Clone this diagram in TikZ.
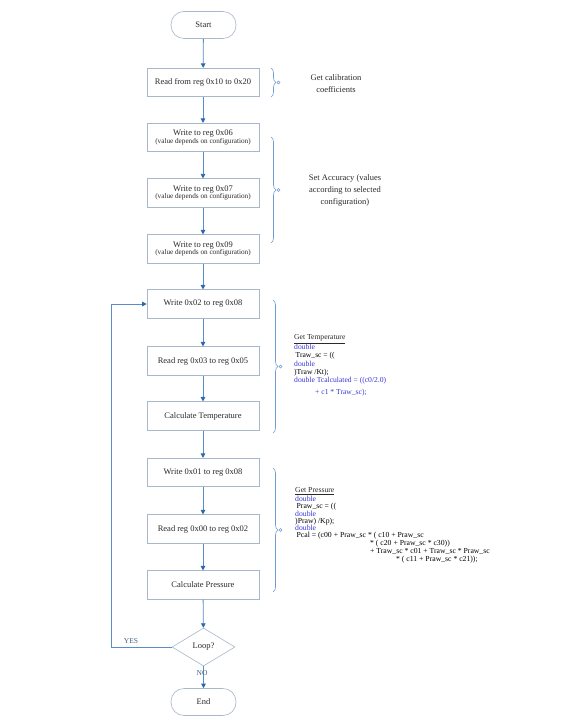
\documentclass[tikz,border=0pt]{standalone}
\usepackage{fontspec}
\setmainfont{Liberation Serif}
\usetikzlibrary{shapes.geometric,arrows.meta,decorations.pathreplacing}
\definecolor{boxline}{HTML}{A9B7CB}
\definecolor{flow}{HTML}{5A8DC4}
\definecolor{tip}{HTML}{2E6AA8}
\definecolor{txt}{HTML}{2A2A2A}
\definecolor{kw}{HTML}{3838D8}
\definecolor{bracec}{HTML}{6F9BD0}
\newcommand{\kwd}[1]{\textcolor{kw}{#1}}
\begin{document}
\begin{tikzpicture}[x=1pt,y=-1pt,
  procbox/.style={draw=boxline,line width=0.6pt,minimum width=112pt,minimum height=28.5pt,inner sep=1pt,align=center,text=txt,font=\fontsize{8.5}{9}\selectfont},
  term/.style={draw=boxline,line width=0.6pt,rounded corners=13pt,minimum width=65pt,minimum height=27pt,text=txt,font=\fontsize{8.5}{9}\selectfont},
  decis/.style={draw=boxline,line width=0.6pt,diamond,aspect=1.65,minimum width=63pt,minimum height=38pt,inner sep=0pt,text=txt,font=\fontsize{8.5}{9}\selectfont},
  flowline/.style={draw=flow,line width=0.8pt,-{Triangle[length=4.5pt,width=4.5pt,color=tip]}},
  bracel/.style={draw=bracec,line width=0.6pt,decorate,decoration={brace,amplitude=5pt}},
  note/.style={text=txt,align=center,font=\fontsize{8.5}{12}\selectfont},
  code/.style={text=black,align=left,anchor=north west,inner sep=0pt},
  lbl/.style={text=flow!70!black,font=\fontsize{7.5}{8}\selectfont}
]
\useasboundingbox (0,0) rectangle (567,727);
\fill[white] (0,0) rectangle (567,727);

\node[term] (start) at (203.5,25) {Start};
\node[procbox] (b1) at (203,82.5) {Read from reg 0x10 to 0x20};
\node[procbox] (b2) at (203,137.5) {Write to reg 0x06\\[-1.5pt]{\fontsize{7.2}{8}\selectfont(value depends on configuration)}};
\node[procbox] (b3) at (203,193) {Write to reg 0x07\\[-1.5pt]{\fontsize{7.2}{8}\selectfont(value depends on configuration)}};
\node[procbox] (b4) at (203,249) {Write to reg 0x09\\[-1.5pt]{\fontsize{7.2}{8}\selectfont(value depends on configuration)}};
\node[procbox] (b5) at (203,304) {Write 0x02 to reg 0x08};
\node[procbox] (b6) at (203,361) {Read reg 0x03 to reg 0x05};
\node[procbox] (b7) at (203,416) {Calculate Temperature};
\node[procbox] (b8) at (203,472.5) {Write 0x01 to reg 0x08};
\node[procbox] (b9) at (203,529) {Read reg 0x00 to reg 0x02};
\node[procbox] (b10) at (203,585) {Calculate Pressure};
\node[decis] (loop) at (203.5,647) {Loop?};
\node[term] (end) at (203.5,702) {End};

\draw[flowline] (start) -- (b1);
\draw[flowline] (b1) -- (b2);
\draw[flowline] (b2) -- (b3);
\draw[flowline] (b3) -- (b4);
\draw[flowline] (b4) -- (b5);
\draw[flowline] (b5) -- (b6);
\draw[flowline] (b6) -- (b7);
\draw[flowline] (b7) -- (b8);
\draw[flowline] (b8) -- (b9);
\draw[flowline] (b9) -- (b10);
\draw[flowline] (b10) -- (loop);
\draw[flowline] (loop) -- (end);
\coordinate (lc1) at (111,647);
\coordinate (lc2) at (111,304);
\draw[flowline] (loop.west) -- (lc1) -- (lc2) -- (b5.west);
\node[lbl] (yes) at (131,641) {YES};
\node[lbl] (no) at (202,673) {NO};

% braces
\coordinate (br1t) at (271,68);
\coordinate (br1b) at (271,97);
\draw[bracel] (br1t) -- (br1b);
\node[draw=bracec,circle,inner sep=0pt,minimum size=3pt,line width=0.5pt] (c1) at (278.5,82.5) {};
\node[note] (n1) at (336,84) {Get calibration\\coefficients};

\coordinate (br2t) at (271,137);
\coordinate (br2b) at (271,243);
\draw[bracel] (br2t) -- (br2b);
\node[draw=bracec,circle,inner sep=0pt,minimum size=3pt,line width=0.5pt] (c2) at (278.5,190) {};
\node[note] (n2) at (345,190) {Set Accuracy (values\\according to selected\\configuration)};

\coordinate (br3t) at (273,300);
\coordinate (br3b) at (273,433);
\draw[bracel] (br3t) -- (br3b);
\node[draw=bracec,circle,inner sep=0pt,minimum size=3pt,line width=0.5pt] (c3) at (280.5,366.5) {};
\node[code,font=\fontsize{7.6}{8.3}\selectfont] (tcode) at (294,334.5) {%
\textcolor{txt}{\underline{Get Temperature}}\\
\kwd{double}\\
\hspace*{1.5pt}Traw\_sc = ((\\
\kwd{double}\\
)Traw /Kt);\\
\kwd{double Tcalculated = ((c0/2.0)}\\[3.7pt]
\hspace*{21pt}\kwd{+ c1 * Traw\_sc);}};

\coordinate (br4t) at (273,468);
\coordinate (br4b) at (273,592);
\draw[bracel] (br4t) -- (br4b);
\node[draw=bracec,circle,inner sep=0pt,minimum size=3pt,line width=0.5pt] (c4) at (280.5,530) {};
\node[code,font=\fontsize{7.7}{6.9}\selectfont] (pcode) at (295,487.5) {%
\textcolor{txt}{\underline{Get Pressure}}\\
\kwd{double}\\
\hspace*{1.5pt}Praw\_sc = ((\\
\kwd{double}\\
)Praw) /Kp);\\
\kwd{double}\\
\hspace*{1.5pt}Pcal = (c00 + Praw\_sc * ( c10 + Praw\_sc\\
\hspace*{75pt}* ( c20 + Praw\_sc * c30))\\[1pt]
\hspace*{75pt}+ Traw\_sc * c01 + Traw\_sc * Praw\_sc\\[1pt]
\hspace*{101pt}* ( c11 + Praw\_sc * c21));};
\end{tikzpicture}
\end{document}
